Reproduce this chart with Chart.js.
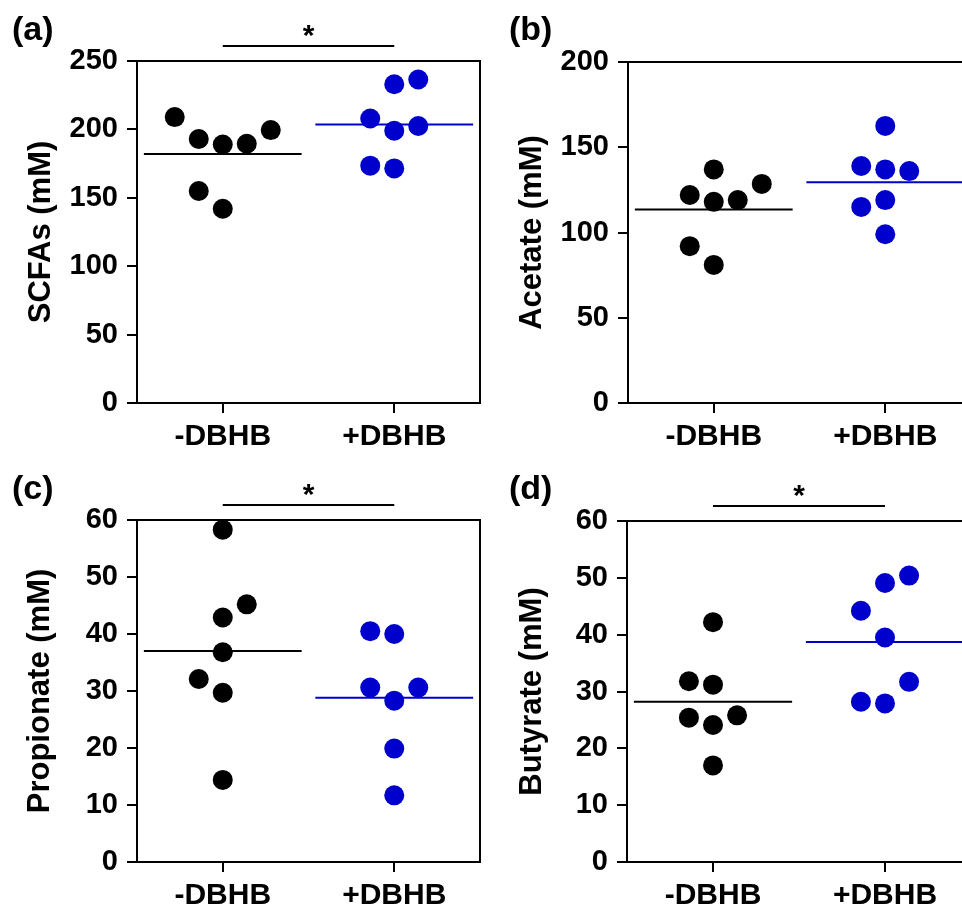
<!DOCTYPE html>
<html>
<head>
<meta charset="utf-8">
<script src="https://cdn.jsdelivr.net/npm/chart.js@4.4.1/dist/chart.umd.min.js"></script>
<style>
html, body { margin: 0; padding: 0; background: #fff; }
body { width: 962px; height: 909px; overflow: hidden; position: relative; }
canvas { position: absolute; }
</style>
</head>
<body>
<canvas id="chartA" width="490" height="450" style="left:0;top:0"></canvas>
<canvas id="chartB" width="500" height="450" style="left:481px;top:0"></canvas>
<canvas id="chartC" width="490" height="459" style="left:0;top:450px"></canvas>
<canvas id="chartD" width="500" height="459" style="left:481px;top:450px"></canvas>
<script>
// groups on the x axis
const groups = ['-DBHB', '+DBHB']

// (a) total SCFAs, mM
const scfaCtrl = [209, 193, 189, 189.5, 199.5, 155, 142]
const scfaCtrlX = [0.72, 0.86, 1, 1.14, 1.28, 0.86, 1]
const scfaDbhb = [208, 233, 236.5, 199, 202.5, 173.5, 171.5]
const scfaDbhbX = [1.86, 2, 2.14, 2, 2.14, 1.86, 2]
const scfaMeans = [182, 203.5]

// (b) acetate, mM
const acetCtrl = [137, 122, 118, 119, 128.5, 92, 81]
const acetCtrlX = [1, 0.86, 1, 1.14, 1.28, 0.86, 1]
const acetDbhb = [162.5, 139, 137, 136, 115, 119, 99]
const acetDbhbX = [2, 1.86, 2, 2.14, 1.86, 2, 2]
const acetMeans = [113.5, 129.5]

// (c) propionate, mM
const propCtrl = [58.3, 45.2, 42.9, 36.8, 32.1, 29.7, 14.4]
const propCtrlX = [1, 1.14, 1, 1, 0.86, 1, 1]
const propDbhb = [40.5, 40, 30.6, 30.6, 28.3, 19.9, 11.7]
const propDbhbX = [1.86, 2, 1.86, 2.14, 2, 2, 2]
const propMeans = [37, 28.8]

// (d) butyrate, mM
const butCtrl = [42.2, 31.8, 31.2, 25.4, 24.1, 25.8, 17]
const butCtrlX = [1, 0.86, 1, 0.86, 1, 1.14, 1]
const butDbhb = [50.4, 49.1, 44.2, 39.5, 31.7, 28.2, 27.9]
const butDbhbX = [2.14, 2, 1.86, 2, 2.14, 1.86, 2]
const butMeans = [28.2, 38.7]

const BLACK = '#000000'
const BLUE = '#0000cc'
const FONT = "'Liberation Sans', Arial, sans-serif"
const MEAN_HALF = 0.46

function toPoints(xs, ys) {
    return ys.map((y, i) => ({x: xs[i], y: y}))
}
function meanLine(pos, value) {
    return [{x: pos - MEAN_HALF, y: value}, {x: pos + MEAN_HALF, y: value}]
}

//draws the top/right frame, the panel letter and the significance bar
const panelDecor = {
    id: 'panelDecor',
    afterDraw(chart, args, opts) {
        const {ctx, chartArea} = chart
        const xs = chart.scales.x
        ctx.save()
        ctx.strokeStyle = BLACK
        ctx.lineWidth = 2
        ctx.beginPath()
        ctx.moveTo(chartArea.left, chartArea.top)
        ctx.lineTo(chartArea.right, chartArea.top)
        ctx.lineTo(chartArea.right, chartArea.bottom)
        ctx.stroke()

        ctx.fillStyle = BLACK
        ctx.font = 'bold 34px ' + FONT
        ctx.textAlign = 'left'
        ctx.textBaseline = 'middle'
        ctx.fillText(opts.label, opts.labelX, opts.labelY)

        if (opts.star) {
            const x1 = xs.getPixelForValue(1)
            const x2 = xs.getPixelForValue(2)
            const y = chartArea.top - 15
            ctx.lineWidth = 2
            ctx.beginPath()
            ctx.moveTo(x1, y)
            ctx.lineTo(x2, y)
            ctx.stroke()
            ctx.textAlign = 'center'
            ctx.textBaseline = 'alphabetic'
            ctx.font = 'bold 30px ' + FONT
            ctx.fillText('*', (x1 + x2) / 2, y - 1)
        }
        ctx.restore()
    }
}

function makePanel(id, cfg) {
    const tickFont = {family: FONT, size: 29, weight: 'bold'}
    const labelFont = {family: FONT, size: 30, weight: 'bold'}
    return new Chart(document.getElementById(id), {
        type: 'scatter',
        data: {
            datasets: [
                {data: toPoints(cfg.ctrlX, cfg.ctrl), backgroundColor: BLACK, borderWidth: 0, pointRadius: 10, clip: false},
                {data: toPoints(cfg.dbhbX, cfg.dbhb), backgroundColor: BLUE, borderWidth: 0, pointRadius: 10, clip: false},
                {data: meanLine(1, cfg.means[0]), showLine: true, borderColor: BLACK, borderWidth: 2, pointRadius: 0},
                {data: meanLine(2, cfg.means[1]), showLine: true, borderColor: BLUE, borderWidth: 2, pointRadius: 0, clip: false}
            ]
        },
        options: {
            responsive: false,
            animation: false,
            events: [],
            layout: {padding: {top: cfg.top, right: cfg.right, left: 0, bottom: 0}},
            plugins: {
                legend: {display: false},
                tooltip: {enabled: false},
                panelDecor: {label: cfg.label, labelX: cfg.labelX, labelY: cfg.labelY, star: cfg.star}
            },
            scales: {
                x: {
                    type: 'linear', min: 0.5, max: 2.5,
                    afterBuildTicks: s => { s.ticks = groups.map((g, i) => ({value: i + 1})) },
                    afterFit: s => { s.height = cfg.bottom },
                    ticks: {callback: v => groups[v - 1], color: BLACK, font: labelFont, padding: 6, maxRotation: 0, autoSkip: false},
                    grid: {drawOnChartArea: false, drawTicks: true, tickLength: 10, color: BLACK, lineWidth: 2},
                    border: {display: true, color: BLACK, width: 2}
                },
                y: {
                    min: 0, max: cfg.max,
                    afterFit: s => { s.width = cfg.left },
                    ticks: {stepSize: cfg.step, color: BLACK, font: tickFont, padding: 9},
                    grid: {drawOnChartArea: false, drawTicks: true, tickLength: 10, color: BLACK, lineWidth: 2},
                    border: {display: true, color: BLACK, width: 2},
                    title: {display: true, text: cfg.title, color: BLACK, font: {family: FONT, size: 31, weight: 'bold'}, padding: {top: cfg.titlePad, bottom: 0}}
                }
            }
        },
        plugins: [panelDecor]
    })
}

makePanel('chartA', {
    ctrl: scfaCtrl, ctrlX: scfaCtrlX, dbhb: scfaDbhb, dbhbX: scfaDbhbX, means: scfaMeans,
    max: 250, step: 50, title: 'SCFAs (mM)', label: '(a)', labelX: 12, labelY: 31, star: true,
    top: 61, bottom: 47, left: 137, right: 10, titlePad: 23
})
makePanel('chartB', {
    ctrl: acetCtrl, ctrlX: acetCtrlX, dbhb: acetDbhb, dbhbX: acetDbhbX, means: acetMeans,
    max: 200, step: 50, title: 'Acetate (mM)', label: '(b)', labelX: 28, labelY: 31, star: false,
    top: 62, bottom: 47, left: 147, right: 10, titlePad: 33
})
makePanel('chartC', {
    ctrl: propCtrl, ctrlX: propCtrlX, dbhb: propDbhb, dbhbX: propDbhbX, means: propMeans,
    max: 60, step: 10, title: 'Propionate (mM)', label: '(c)', labelX: 12, labelY: 40, star: true,
    top: 70, bottom: 47, left: 137, right: 10, titlePad: 22
})
makePanel('chartD', {
    ctrl: butCtrl, ctrlX: butCtrlX, dbhb: butDbhb, dbhbX: butDbhbX, means: butMeans,
    max: 60, step: 10, title: 'Butyrate (mM)', label: '(d)', labelX: 28, labelY: 40, star: true,
    top: 71, bottom: 47, left: 146, right: 10, titlePad: 33
})
</script>
</body>
</html>
